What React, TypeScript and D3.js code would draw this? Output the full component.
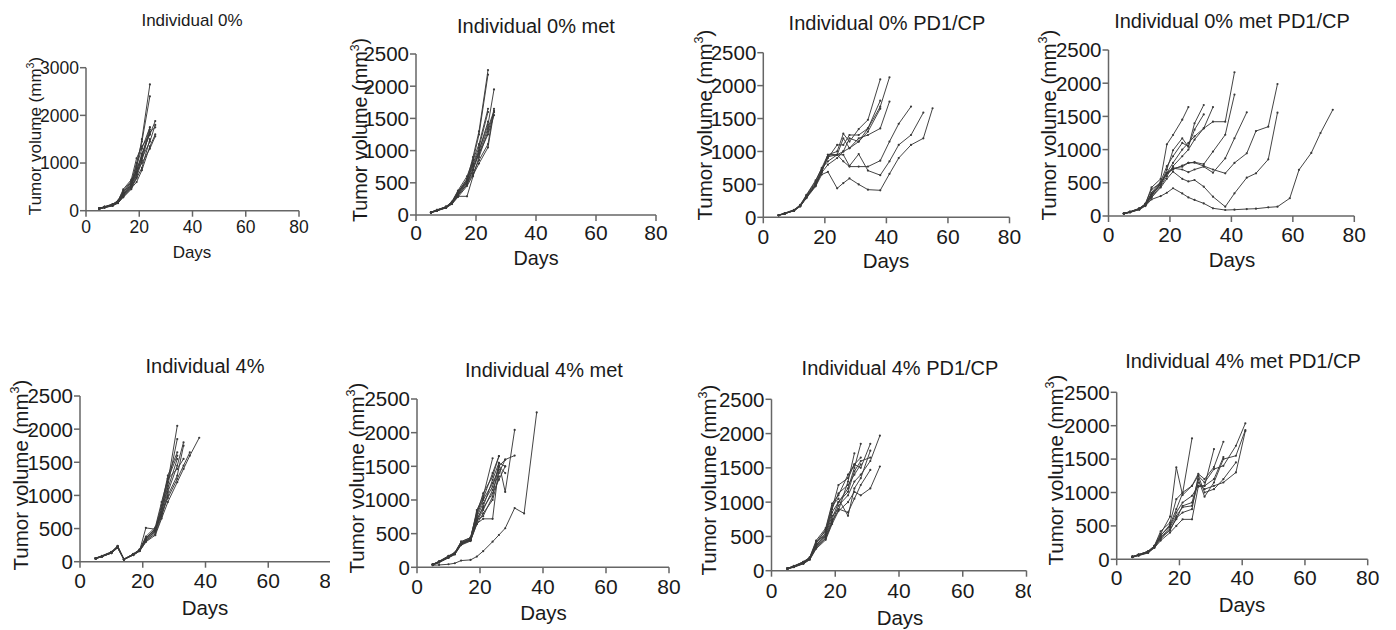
import React from 'react';
import * as d3 from 'd3';

// ---------- DATA ----------
const xTicks = [0, 20, 40, 60, 80];

const titles = [
  'Individual 0%', 'Individual 0% met', 'Individual 0% PD1/CP', 'Individual 0% met PD1/CP',
  'Individual 4%', 'Individual 4% met', 'Individual 4% PD1/CP', 'Individual 4% met PD1/CP',
];

const days0 = [5, 7, 10, 12, 14, 17, 19, 21, 24, 26];
const vol0: number[][] = [
  [40, 75, 120, 180, 330, 520, 900, 1500, 2650],
  [45, 80, 130, 200, 380, 600, 1000, 1450, 2400],
  [50, 70, 115, 170, 300, 480, 750, 1150, 1750],
  [40, 65, 110, 160, 280, 450, 700, 1050, 1700],
  [55, 85, 140, 210, 420, 620, 820, 1200, 1600, 1880],
  [50, 75, 125, 190, 350, 560, 800, 1000, 1300, 1560],
  [45, 80, 120, 200, 400, 580, 950, 1300, 1750],
  [40, 70, 110, 170, 320, 500, 680, 900, 1500],
  [50, 75, 130, 185, 360, 540, 870, 1150, 1650, 1750],
  [35, 65, 100, 160, 300, 470, 600, 850, 1350, 1600],
  [45, 70, 120, 180, 340, 520, 780, 1100, 1450, 1800],
  [50, 80, 135, 200, 450, 650, 1100, 1350, 1600],
];

const days0met = [5, 7, 10, 12, 14, 17, 19, 21, 24, 26];
const vol0met: number[][] = [
  [35, 70, 120, 190, 350, 550, 900, 1300, 2250],
  [40, 75, 125, 200, 330, 520, 850, 1250, 2180],
  [40, 70, 110, 180, 300, 480, 700, 1000, 1400, 1950],
  [45, 80, 130, 210, 380, 600, 850, 1100, 1650],
  [35, 65, 115, 175, 290, 290, 600, 900, 1300, 1600],
  [40, 75, 120, 190, 320, 500, 750, 950, 1250, 1550],
  [45, 70, 125, 200, 360, 560, 800, 1050, 1600],
  [40, 70, 115, 185, 310, 470, 650, 850, 1100, 1650],
  [35, 65, 110, 170, 280, 450, 620, 800, 1050, 1600],
  [40, 75, 130, 195, 340, 530, 780, 1000, 1450],
  [45, 80, 120, 205, 370, 500, 700, 950, 1350, 1620],
];

const days0pd = [5, 7, 10, 12, 14, 17, 19, 21, 24, 26, 28, 31, 34, 38, 41, 44, 48, 52, 55];
const vol0pd: number[][] = [
  [30, 60, 110, 180, 320, 520, 700, 950, 1000, 1270, 1150, 1340, 1480, 2095],
  [30, 55, 100, 170, 300, 500, 720, 900, 1100, 1100, 1250, 1250, 1350, 1680, 2126],
  [35, 65, 115, 190, 340, 560, 750, 950, 950, 1000, 1200, 1150, 1350, 1771],
  [30, 60, 105, 175, 310, 480, 680, 800, 900, 1000, 1050, 1200, 1250, 1350, 1757],
  [35, 60, 110, 180, 330, 540, 740, 850, 950, 1200, 1050, 1150, 1300, 1650],
  [30, 55, 100, 170, 300, 500, 700, 920, 950, 850, 770, 770, 770, 860, 1150, 1420, 1682],
  [30, 60, 105, 170, 310, 490, 690, 950, 950, 950, 780, 960, 710, 640, 850, 1100, 1250, 1590],
  [30, 55, 100, 165, 290, 470, 650, 690, 440, 520, 590, 500, 420, 410, 660, 900, 1100, 1200, 1656],
];

const days0metpd = [5, 7, 10, 12, 14, 17, 19, 21, 24, 26, 28, 31, 34, 38, 41, 45, 48, 52, 55, 59, 62, 66, 69, 73];
const vol0metpd: number[][] = [
  [40, 65, 110, 180, 430, 560, 1080, 1220, 1450, 1640],
  [40, 60, 105, 170, 300, 480, 700, 990, 1170, 1044, 1396, 1672],
  [35, 60, 110, 175, 350, 520, 750, 900, 1100, 1050, 1300, 1530],
  [40, 65, 115, 185, 400, 500, 650, 800, 1000, 1100, 1200, 1320, 1640],
  [35, 55, 100, 165, 280, 450, 600, 750, 900, 1000, 1150, 1320, 1420, 1420, 2165],
  [35, 60, 105, 170, 320, 480, 640, 700, 760, 800, 810, 780, 970, 1224, 1828],
  [40, 60, 110, 175, 330, 500, 650, 720, 700, 660, 700, 743, 653, 869, 1170, 1561],
  [40, 60, 105, 170, 320, 480, 640, 718, 743, 800, 803, 753, 700, 643, 800, 944, 1280, 1345, 1988],
  [35, 55, 100, 160, 280, 430, 560, 668, 560, 520, 542, 442, 291, 140, 341, 577, 643, 853, 1556],
  [35, 55, 95, 150, 250, 300, 350, 418, 340, 280, 242, 190, 116, 90, 95, 105, 110, 130, 140, 267, 695, 950, 1250, 1600],
];

const days4 = [5, 7, 10, 12, 14, 17, 19, 21, 24, 26, 28, 31, 33, 35, 38];
const vol4: number[][] = [
  [50, 85, 140, 230, 40, 110, 170, 330, 470, 800, 1200, 2050],
  [45, 80, 130, 210, 35, 100, 160, 300, 450, 750, 1150, 1850],
  [55, 90, 150, 240, 30, 120, 180, 350, 500, 850, 1300, 1650],
  [50, 80, 135, 220, 40, 115, 175, 360, 480, 700, 1050, 1450, 1800],
  [45, 75, 130, 215, 35, 105, 165, 320, 420, 680, 1000, 1300, 1750],
  [50, 85, 145, 225, 30, 110, 170, 510, 490, 750, 1100, 1550],
  [55, 85, 140, 235, 35, 115, 185, 380, 520, 900, 1250, 1600],
  [50, 80, 135, 220, 40, 105, 170, 340, 460, 720, 960, 1250, 1450, 1650],
  [45, 80, 130, 210, 35, 100, 160, 300, 400, 650, 900, 1200, 1400, 1600, 1870],
  [50, 85, 140, 225, 35, 110, 175, 350, 500, 800, 1250, 1400, 1550],
];

const days4met = [5, 7, 10, 12, 14, 17, 19, 21, 24, 26, 28, 31, 34, 38];
const vol4met: number[][] = [
  [30, 35, 45, 60, 100, 110, 160, 240, 380, 480, 580, 880, 800, 2300],
  [40, 80, 160, 210, 360, 420, 850, 1050, 1620],
  [45, 90, 170, 220, 380, 440, 800, 1100, 1350, 1650],
  [40, 75, 150, 200, 350, 400, 700, 900, 1300, 1550, 1120, 2040],
  [35, 70, 140, 190, 330, 390, 650, 720, 720, 1500, 1600, 1660],
  [40, 80, 155, 205, 370, 410, 750, 950, 1200, 1500, 1400],
  [45, 85, 165, 215, 360, 430, 780, 1000, 1250, 1450],
  [40, 80, 150, 200, 340, 400, 680, 850, 1150, 1400, 1600],
  [35, 75, 145, 195, 350, 420, 720, 880, 1100, 1300, 1500],
  [40, 80, 160, 210, 380, 440, 820, 1020, 1400, 1650],
  [45, 85, 155, 200, 360, 400, 640, 800, 1000, 1350],
  [40, 75, 150, 205, 340, 410, 700, 760, 1050, 1550, 1500],
];

const days4pd = [5, 7, 10, 12, 14, 17, 19, 21, 24, 26, 28, 31, 34];
const vol4pd: number[][] = [
  [30, 60, 120, 180, 380, 500, 750, 1000, 1200, 1500, 1850],
  [35, 65, 125, 190, 420, 580, 900, 1250, 1350, 1550, 1500, 1850],
  [30, 55, 110, 170, 350, 480, 700, 950, 1100, 1300, 1400, 1600, 1970],
  [25, 50, 100, 160, 320, 450, 680, 870, 1000, 1150, 1100, 1200, 1520],
  [35, 65, 130, 190, 400, 600, 950, 1050, 800, 1200, 1350, 1750],
  [30, 60, 115, 175, 360, 520, 800, 900, 850, 1050, 1250, 1470],
  [30, 55, 105, 165, 330, 470, 720, 880, 1300, 1712],
  [35, 70, 130, 195, 440, 620, 980, 1100, 1400, 1550, 1650],
  [30, 60, 120, 180, 370, 540, 850, 1000, 1150, 1450, 1600, 1650],
  [30, 55, 110, 175, 400, 550, 900, 1130, 1250, 1400, 1550],
];

const days4metpd = [5, 7, 10, 12, 14, 17, 19, 21, 24, 26, 28, 31, 34, 38, 41];
const vol4metpd: number[][] = [
  [40, 70, 120, 200, 380, 640, 1377, 962, 1100, 1250, 1150, 1350, 1400, 1700, 2035],
  [40, 65, 110, 190, 350, 520, 750, 987, 1811],
  [35, 60, 100, 180, 300, 450, 600, 800, 850, 1200, 937, 1150, 1500, 1550, 1935],
  [30, 55, 95, 170, 280, 400, 500, 598, 598, 1087, 1100, 1650],
  [40, 70, 120, 200, 420, 550, 900, 1000, 1100, 1280, 1200, 1380, 1760],
  [35, 65, 110, 190, 320, 480, 650, 780, 800, 1150, 1050, 1100, 1150, 1300, 1920],
  [40, 70, 115, 195, 360, 500, 700, 850, 950, 1100, 1100, 1200, 1530],
  [35, 60, 105, 185, 330, 430, 620, 700, 750, 1250, 1000, 1050, 1200, 1450],
];

// ---------- LAYOUT ----------
type Panel = {
  title: string; days: number[]; vols: number[][]; ymax: number; ystep: number;
  xa: [number, number]; ya: [number, number];
  tp: [number, number]; dp: [number, number]; yp: [number, number]; xtb: number;
  fT: number; fX: number; fY: number; fA: number; clip?: number;
};

const big = { fT: 20, fX: 21, fY: 20.5, fA: 20.5 };

const panels: Panel[] = [
  { title: titles[0], days: days0, vols: vol0, ymax: 3000, ystep: 1000, xa: [86, 299], ya: [210.7, 67.7], tp: [192, 26], dp: [192, 258], yp: [41, 136], xtb: 233, fT: 17, fX: 17.5, fY: 17.5, fA: 17 },
  { title: titles[1], days: days0met, vols: vol0met, ymax: 2500, ystep: 500, xa: [416, 656], ya: [215, 54], tp: [536, 32.5], dp: [536, 265], yp: [367, 130], xtb: 240, ...big, fA: 19.8 },
  { title: titles[2], days: days0pd, vols: vol0pd, ymax: 2500, ystep: 500, xa: [763.3, 1009.5], ya: [217.3, 52.7], tp: [887, 30], dp: [886, 268], yp: [712, 125], xtb: 244, ...big },
  { title: titles[3], days: days0metpd, vols: vol0metpd, ymax: 2500, ystep: 500, xa: [1108.5, 1354.3], ya: [216, 50], tp: [1232, 28], dp: [1232, 266.5], yp: [1056, 125], xtb: 241.5, ...big },
  { title: titles[4], days: days4, vols: vol4, ymax: 2500, ystep: 500, xa: [80, 331], ya: [561.7, 396], tp: [205, 372.5], dp: [205, 615], yp: [28, 475], xtb: 588, ...big, clip: 330 },
  { title: titles[5], days: days4met, vols: vol4met, ymax: 2500, ystep: 500, xa: [417, 669], ya: [567.3, 399], tp: [544, 376.5], dp: [543.5, 620], yp: [364, 478], xtb: 594, ...big },
  { title: titles[6], days: days4pd, vols: vol4pd, ymax: 2500, ystep: 500, xa: [771.5, 1026.5], ya: [570.7, 399.3], tp: [900, 375], dp: [900, 625], yp: [716, 480], xtb: 598, ...big, clip: 1031 },
  { title: titles[7], days: days4metpd, vols: vol4metpd, ymax: 2500, ystep: 500, xa: [1116.7, 1367.7], ya: [559.3, 392.3], tp: [1243, 368], dp: [1242, 612], yp: [1063, 470], xtb: 585, ...big },
];

const FONT = '"Liberation Sans", Arial, Helvetica, sans-serif';
const AXIS = '#666';
const LINE = '#3a3a3a';
const TEXT = '#1a1a1a';

function PanelView({ p, idx }: { p: Panel; idx: number }) {
  const x = d3.scaleLinear().domain([0, 80]).range(p.xa);
  const y = d3.scaleLinear().domain([0, p.ymax]).range(p.ya);
  const yTicks = d3.range(0, p.ymax + 1, p.ystep);
  const line = d3.line<[number, number]>().x(d => x(d[0])).y(d => y(d[1]));
  const clipId = `clip${idx}`;
  const supSize = p.fA * 0.62;
  return (
    <g clipPath={p.clip ? `url(#${clipId})` : undefined} fontFamily={FONT} fill={TEXT}>
      {p.clip && (
        <defs>
          <clipPath id={clipId}>
            <rect x={p.clip - 400} y={0} width={400} height={630} />
          </clipPath>
        </defs>
      )}
      <text x={p.tp[0]} y={p.tp[1]} fontSize={p.fT} textAnchor="middle">{p.title}</text>
      {/* series */}
      <g fill="none" stroke={LINE} strokeWidth={0.95}>
        {p.vols.map((vs, i) => {
          const pts = vs.map((v, j) => [p.days[j], v] as [number, number]);
          return <path key={i} d={line(pts) || ''} />;
        })}
      </g>
      <g fill={LINE}>
        {p.vols.map((vs, i) =>
          vs.map((v, j) => <circle key={`${i}-${j}`} cx={x(p.days[j])} cy={y(v)} r={1.1} />)
        )}
      </g>
      {/* axes */}
      <g stroke={AXIS} strokeWidth={1.5} fill="none">
        <line x1={x(0)} x2={x(0)} y1={y(0)} y2={y(p.ymax)} />
        <line x1={x(0)} x2={x(80)} y1={y(0)} y2={y(0)} />
        {yTicks.map(t => <line key={'yt' + t} x1={x(0) - 6} x2={x(0)} y1={y(t)} y2={y(t)} />)}
        {xTicks.map(t => <line key={'xt' + t} x1={x(t)} x2={x(t)} y1={y(0)} y2={y(0) + 6} />)}
      </g>
      {yTicks.map(t => (
        <text key={'yl' + t} x={x(0) - 7} y={y(t)} dy="0.36em" fontSize={p.fY} textAnchor="end">{t}</text>
      ))}
      {xTicks.map(t => (
        <text key={'xl' + t} x={x(t)} y={p.xtb} fontSize={p.fX} textAnchor="middle">{t}</text>
      ))}
      <text x={p.dp[0]} y={p.dp[1]} fontSize={p.fA} textAnchor="middle">Days</text>
      <text transform={`translate(${p.yp[0]},${p.yp[1]}) rotate(-90)`} fontSize={p.fA} textAnchor="middle">
        Tumor volume (mm
        <tspan fontSize={supSize} dy={-p.fA * 0.42}>3</tspan>
        <tspan dy={p.fA * 0.42}>)</tspan>
      </text>
    </g>
  );
}

export default function App() {
  return (
    <svg width={1396} height={630} style={{ position: 'absolute', left: 0, top: 0, background: '#fff' }}>
      <rect x={0} y={0} width={1396} height={630} fill="#fff" />
      {panels.map((p, i) => <PanelView key={i} p={p} idx={i} />)}
    </svg>
  );
}
